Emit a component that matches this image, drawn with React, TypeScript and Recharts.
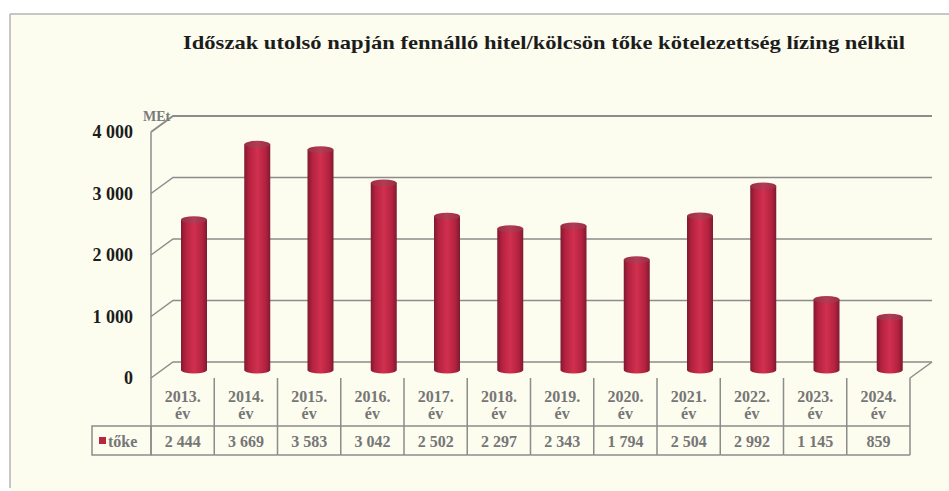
import React from 'react';
import { BarChart, Bar, XAxis, YAxis, CartesianGrid } from 'recharts';

const years = ['2013.', '2014.', '2015.', '2016.', '2017.', '2018.', '2019.', '2020.', '2021.', '2022.', '2023.', '2024.'];
const toke = [2444, 3669, 3583, 3042, 2502, 2297, 2343, 1794, 2504, 2992, 1145, 859];
const yTicks = [0, 1000, 2000, 3000, 4000];

const data = years.map((year, i) => ({ year, toke: toke[i] }));

const W = 949;
const H = 491;
const DX = 22; // depth of the 3d floor
const DY = -16;
const GRID = '#8c8c8c';
const TABLE_TEXT = '#767676';
const SERIF = '"Liberation Serif", "Times New Roman", serif';

// thousands with a space, hungarian style
const fmt = (v: number) => String(v).replace(/\B(?=(\d{3})+(?!\d))/g, ' ');

const GridLine = (props: any) => {
  const { x1, y1, x2, y2, index } = props;
  const bottom = Math.abs(y1 - 378) < 1;
  return (
    <g key={`g-${index}`}>
      <polyline
        points={`${x1},${y1} ${x1 + DX},${y1 + DY} ${x2 + DX},${y2 + DY}`}
        fill="none"
        stroke={GRID}
        strokeWidth={Math.abs(y1 - 132) < 1 ? 2 : 1.5}
      />
      {bottom && <line x1={x2} y1={y2} x2={x2 + DX} y2={y2 + DY} stroke={GRID} strokeWidth={1.5} />}
    </g>
  );
};

const Cylinder = (props: any) => {
  const { x, y, width, height } = props;
  if (height == null || height <= 0) return null;
  const w = 26;
  const cx = x + width / 2 + DX / 2;
  const left = cx - w / 2;
  const top = y + DY / 2;
  const bottom = y + height + DY / 2;
  const ry = 3.5;
  return (
    <g>
      <path
        d={`M${left},${top} L${left},${bottom} A${w / 2},${ry} 0 0 0 ${left + w},${bottom} L${left + w},${top} Z`}
        fill="url(#cyl)"
      />
      <ellipse cx={cx} cy={top} rx={w / 2} ry={ry} fill="url(#cap)" />
    </g>
  );
};

const YTick = (props: any) => {
  const { y, payload } = props;
  return (
    <text x={133} y={y + 6} textAnchor="end" fontFamily={SERIF} fontWeight="bold" fontSize={18} fill="#1c1c1c">
      {fmt(payload.value)}
    </text>
  );
};

const TableTick = (props: any) => {
  const { x, payload, index, width, visibleTicksCount } = props;
  const cw = width && visibleTicksCount ? width / visibleTicksCount : 759 / 12;
  const l = x - cw / 2;
  const r = x + cw / 2;
  const txt = { fontFamily: SERIF, fontWeight: 'bold' as const, fontSize: 16, fill: TABLE_TEXT, textAnchor: 'middle' as const };
  return (
    <g>
      {index === 0 && (
        <g>
          <line x1={l} y1={378} x2={l} y2={455} stroke={GRID} strokeWidth={1.5} />
          <rect x={92} y={426} width={l - 92} height={29} fill="none" stroke={GRID} strokeWidth={1.5} />
          <rect x={99} y={437} width={7} height={7} fill="#b5283f" />
          <text x={108} y={447} fontFamily={SERIF} fontWeight="bold" fontSize={16} fill={TABLE_TEXT}>tőke</text>
        </g>
      )}
      <line x1={r} y1={378} x2={r} y2={455} stroke={GRID} strokeWidth={1.5} />
      <line x1={l} y1={426} x2={r} y2={426} stroke={GRID} strokeWidth={1.5} />
      <line x1={l} y1={455} x2={r} y2={455} stroke={GRID} strokeWidth={1.5} />
      <text x={x} y={402} {...txt}>{payload.value}</text>
      <text x={x} y={419} {...txt}>év</text>
      <text x={x} y={447} {...txt}>{fmt(toke[index])}</text>
    </g>
  );
};

const MeLabel = () => (
  <text x={143} y={121} fontFamily={SERIF} fontWeight="bold" fontSize={14} fill="#7a7a7a">MEt</text>
);

export default function App() {
  return (
    <div style={{ position: 'absolute', left: 0, top: 0, width: W, height: H, background: '#ffffff' }}>
      <svg width={W} height={H} style={{ position: 'absolute', left: 0, top: 0 }}>
        <defs>
          <linearGradient id="cyl" x1="0" y1="0" x2="1" y2="0">
            <stop offset="0" stopColor="#7e1a30" />
            <stop offset="0.18" stopColor="#b3223f" />
            <stop offset="0.5" stopColor="#d1304f" />
            <stop offset="0.82" stopColor="#b3223f" />
            <stop offset="1" stopColor="#7e1a30" />
          </linearGradient>
          <linearGradient id="cap" x1="0" y1="0" x2="1" y2="0">
            <stop offset="0" stopColor="#9a2d44" />
            <stop offset="0.5" stopColor="#b23d55" />
            <stop offset="1" stopColor="#9a2d44" />
          </linearGradient>
        </defs>
        <rect x={10} y={14} width={W - 10} height={H - 14} fill="#fcfcef" />
        <line x1={10} y1={14} x2={W} y2={14} stroke="#b5b5b5" strokeWidth={1.5} />
        <line x1={10} y1={14} x2={10} y2={488} stroke="#b5b5b5" strokeWidth={1.5} />
        <text
          x={183}
          y={49}
          textLength={722}
          lengthAdjust="spacingAndGlyphs"
          fontFamily={SERIF}
          fontWeight="bold"
          fontSize={19}
          fill="#1c1c1c"
        >
          Időszak utolsó napján fennálló hitel/kölcsön tőke kötelezettség lízing nélkül
        </text>
      </svg>
      <div style={{ position: 'absolute', left: 0, top: 0 }}>
        <BarChart width={W} height={H} data={data} margin={{ top: 132, right: 39, bottom: 0, left: 91 }}>
          <CartesianGrid horizontal={GridLine} vertical={false} />
          <XAxis
            dataKey="year"
            height={113}
            axisLine={false}
            tickLine={false}
            interval={0}
            tick={<TableTick />}
          />
          <YAxis
            width={60}
            domain={[0, 4000]}
            ticks={yTicks}
            axisLine={{ stroke: GRID, strokeWidth: 1.5 }}
            tickLine={false}
            tick={<YTick />}
            label={<MeLabel />}
          />
          <Bar dataKey="toke" barSize={26} shape={<Cylinder />} isAnimationActive={false} />
        </BarChart>
      </div>
    </div>
  );
}
